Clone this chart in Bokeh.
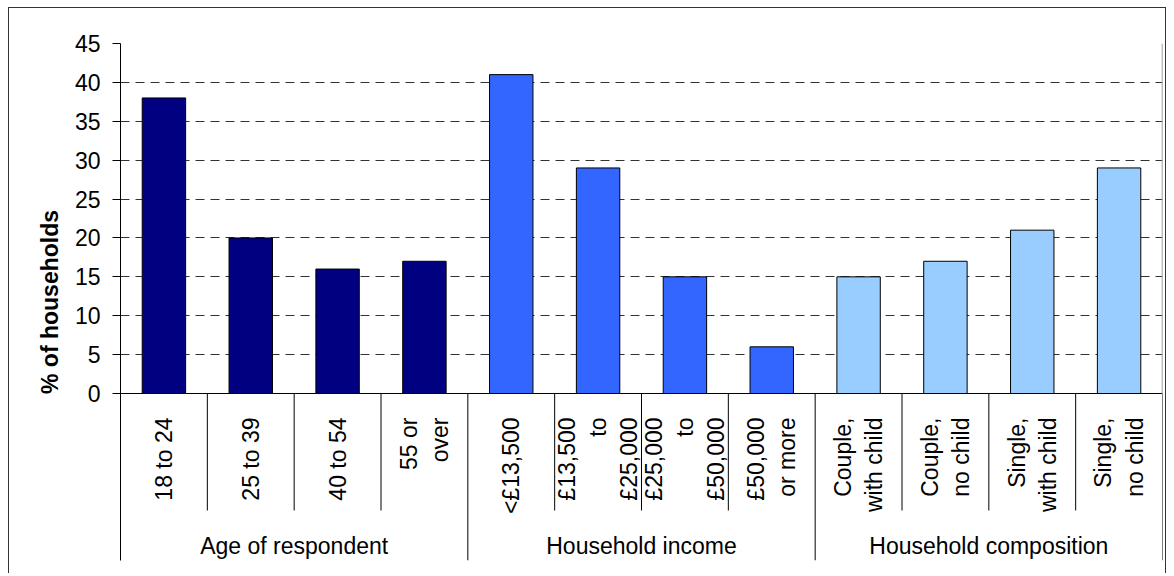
import math
from bokeh.plotting import figure
from bokeh.models import Range1d, FixedTicker
from bokeh.core.properties import value
from bokeh.embed import file_html
from bokeh.resources import INLINE

# ---- data ----
groups = ["Age of respondent", "Household income", "Household composition"]
group_sizes = [4, 4, 4]
categories = ["18 to 24", "25 to 39", "40 to 54", "55 or\nover",
              "<£13,500", "£13,500\nto\n£25,000", "£25,000\nto\n£50,000", "£50,000\nor more",
              "Couple,\nwith child", "Couple,\nno child", "Single,\nwith child", "Single,\nno child"]
values = [38, 20, 16, 17, 41, 29, 15, 6, 15, 17, 21, 29]
group_colors = ["#000080", "#3366FF", "#99CCFF"]
y_ticks = [0, 5, 10, 15, 20, 25, 30, 35, 40, 45]
y_label = "% of households"

# ---- layout (pixels) ----
OFF_X, OFF_Y = 8, 7
W, H = 1158, 566
B_LEFT, B_RIGHT, B_TOP = 112, 4, 36
frame_bottom = 553  # relative to figure top
B_BOTTOM = H - frame_bottom
frame_h = frame_bottom - B_TOP
ymax = 45
px_per_unit = 350 / ymax
ymin = -(frame_h - 350) / px_per_unit
short_sep = -117 / px_per_unit
cat_anchor = -24 / px_per_unit
group_label_y = -152 / px_per_unit

FONT = "Liberation Sans"
FS = "23px"

n = len(categories)
p = figure(width=W, height=H, x_range=Range1d(0, n), y_range=Range1d(ymin, ymax),
           x_axis_type=None, output_backend="svg", toolbar_location=None,
           min_border_left=B_LEFT, min_border_right=B_RIGHT,
           min_border_top=B_TOP, min_border_bottom=B_BOTTOM)
p.outline_line_color = None
p.border_fill_color = None
p.background_fill_color = "white"
p.styles = {"margin-left": f"{OFF_X}px", "margin-top": f"{OFF_Y}px",
            "box-shadow": "inset 1px 1px 0 0 #333333, inset -1px 0 0 0 #333333"}

# y axis
ya = p.yaxis[0]
ya.ticker = FixedTicker(ticks=y_ticks)
ya.minor_tick_line_color = None
ya.major_tick_out = 8
ya.major_tick_in = 0
ya.axis_line_color = "black"
ya.major_tick_line_color = "black"
ya.major_label_standoff = 12
ya.major_label_text_font = FONT
ya.major_label_text_font_size = FS
ya.major_label_text_color = "black"
ya.axis_label = y_label
ya.axis_label_text_font = FONT
ya.axis_label_text_font_size = FS
ya.axis_label_text_font_style = "bold"
ya.axis_label_text_color = "black"
ya.axis_label_standoff = 9

# grid
p.xgrid.visible = False
p.ygrid.ticker = FixedTicker(ticks=[t for t in y_ticks if t > 0])
p.ygrid.grid_line_color = "#333333"
p.ygrid.grid_line_dash = "9 6"
p.ygrid.grid_line_width = 1

# bars
colors = []
for gi, sz in enumerate(group_sizes):
    colors += [group_colors[gi]] * sz
xs = [i + 0.5 for i in range(n)]
p.vbar(x=xs, top=values, bottom=0, width=0.5, fill_color=colors,
       line_color="black", line_width=1)

# baseline and right plot border
p.segment(x0=[0], y0=[0], x1=[n], y1=[0], line_color="black", line_width=1)
p.segment(x0=[n], y0=[0], x1=[n], y1=[ymax], line_color="#808080", line_width=1.5)

# separators
bounds = []
acc = 0
for sz in group_sizes:
    acc += sz
    bounds.append(acc)
short_x = [i for i in range(1, n) if i not in bounds]
p.segment(x0=short_x, y0=[0] * len(short_x), x1=short_x, y1=[short_sep] * len(short_x),
          line_color="black", line_width=1)
p.segment(x0=bounds, y0=[0] * len(bounds), x1=bounds, y1=[ymin] * len(bounds),
          line_color="black", line_width=1)

# category labels
p.text(x=xs, y=[cat_anchor] * n, text=categories, angle=math.pi / 2,
       text_align="right", text_baseline="middle", text_font=value(FONT),
       text_font_size=FS, text_color="black", text_line_height=1.2)

# group labels
gx = []
acc = 0
for sz in group_sizes:
    gx.append(acc + sz / 2)
    acc += sz
p.text(x=gx, y=[group_label_y] * len(gx), text=groups, text_align="center",
       text_baseline="middle", text_font=value(FONT), text_font_size=FS,
       text_color="black")

open("out.html", "w").write(file_html(p, INLINE))
